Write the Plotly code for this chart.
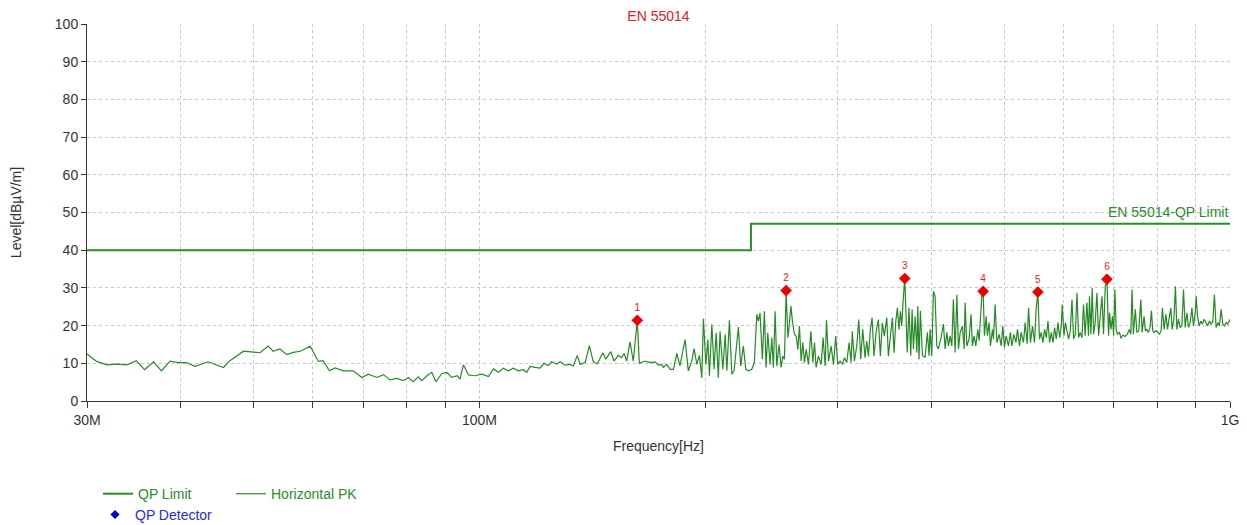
import plotly.graph_objects as go

# ---------------- data ----------------
# Horizontal PK spectrum: frequency [MHz], level [dBuV/m]
pk_freq = [
    30.0, 30.9, 31.9, 32.9, 33.9, 34.9, 35.8, 36.8, 37.7, 38.7, 39.7, 40.7, 41.8, 43.5, 45.6, 46.5,
    48.5, 50.0, 51.0, 52.3, 53.1, 54.2, 55.4, 56.5, 57.7, 59.5, 61.0, 61.9, 63.1, 64.2, 65.9, 67.9,
    69.7, 71.1, 73.0, 74.5, 76.0, 77.6, 79.2, 80.4, 81.6, 82.9, 83.8, 85.1, 86.4, 87.5, 89.1, 90.5,
    91.8, 93.4, 94.2, 95.2, 96.7, 98.7, 100.7, 102.8, 104.4, 106.0, 107.6, 109.3, 110.9, 112.7, 114.4,
    115.6, 116.8, 118.6, 120.4, 121.9, 123.5, 124.8, 126.8,
    128.1, 130.0, 132.1, 133.4, 135.0, 136.2, 138.3, 140.1, 141.8, 143.6, 146.0, 147.4, 149.6, 151.1,
    153.1, 154.7, 155.8, 157.1, 158.7, 160.3, 162.3, 163.3, 166.2, 168.8, 171.4, 173.1, 175.0, 175.8,
    177.6, 179.5, 181.3, 183.2, 185.0, 187.9, 189.8, 191.8, 193.2, 194.8, 196.4, 197.8, 198.8, 200.3,
    201.5, 202.5, 204.0, 205.4, 206.7, 208.1, 209.2, 211.0, 212.5, 213.6, 215.3, 216.9, 218.4, 221.3,
    222.9, 224.7, 226.4, 228.2,
    230.6, 232.4, 234.2, 235.3, 236.5, 238.2, 239.7, 240.9, 242.2, 243.9, 245.2, 246.4, 247.7, 249.0,
    250.7, 252.3, 253.6, 254.9, 256.2, 257.6, 258.6, 260.0, 261.2, 262.8, 264.2, 265.6, 266.9, 268.3,
    269.7, 271.0, 272.5, 274.4, 276.4, 278.1, 279.5, 280.9, 282.9, 285.3, 287.0, 288.8, 290.0, 291.8,
    294.1, 296.3, 298.3, 300.2, 302.3, 304.5, 306.4, 308.6, 310.8, 312.7, 313.9, 315.9, 318.2, 320.2,
    322.1, 324.1, 326.4, 328.1, 329.8, 331.8, 333.5, 335.5, 337.6, 340.0, 342.1, 344.2, 346.3, 348.9,
    350.6, 352.8, 354.9, 356.8, 358.7, 360.4, 362.3, 363.8, 365.3, 366.8, 368.7, 371.5,
    373.5, 375.5, 377.1, 378.6, 380.6, 382.6, 383.7, 385.2, 386.8, 389.2, 392.4, 395.2, 397.2, 398.5,
    400.5, 402.6, 404.6, 406.8, 408.7, 412.1, 415.1, 417.3, 419.4, 421.6, 423.7, 425.9, 428.0, 430.3,
    432.6, 434.7, 437.0, 440.0, 442.4, 443.7, 446.0, 449.1, 451.9, 453.7, 456.1, 458.5, 461.3, 463.2,
    465.0, 467.1, 468.9, 470.8, 473.3, 475.1, 477.6, 479.5, 482.5, 484.0, 486.5, 489.1, 492.5, 495.6,
    498.1, 500.6, 503.2, 506.8, 509.9, 512.1, 515.3, 518.5, 521.0, 524.3, 526.9, 530.7, 533.5, 536.7,
    539.0, 542.2, 545.6, 549.0, 551.8, 554.7, 557.4, 560.4, 563.3, 566.1, 569.1, 572.1, 574.9, 577.9,
    580.9, 583.8, 586.8, 589.9, 592.9, 595.9, 597.7, 600.9, 603.4, 606.4, 609.5, 612.6, 615.9, 618.9,
    622.1, 625.4, 628.5, 631.5, 634.9, 638.0, 641.3, 644.7, 647.9, 649.8, 652.7, 655.2, 658.0, 661.3,
    664.8, 668.2, 671.6, 675.2, 678.4, 682.0, 685.5, 689.0, 691.0, 694.1, 697.4, 699.7, 702.6, 705.4,
    708.1, 712.6, 715.7, 719.6, 724.8, 729.8, 734.4, 737.6, 740.5, 743.4, 748.0, 751.3, 755.8, 760.6,
    763.6, 768.3, 771.3, 774.7, 778.5, 782.6, 785.7, 789.1, 792.2, 797.1, 801.4, 805.3, 809.5, 812.7,
    817.0, 821.4, 825.4, 829.7, 833.9, 837.4, 841.9, 845.9, 849.6, 853.8, 858.1, 862.7, 867.1, 871.5,
    876.1, 880.5, 885.0, 889.7, 894.0, 898.8, 901.5, 905.2, 909.8, 914.4, 919.1, 923.9, 928.6, 933.4,
    939.0, 943.9, 948.7, 953.3, 958.3, 963.4, 968.1, 973.2, 978.2, 983.2, 988.2, 993.4, 998.2, 1000.0,
]
pk_level = [
    12.5, 10.5, 9.6, 9.8, 9.6, 10.7, 8.3, 10.4, 8.0, 10.6, 10.2, 10.2, 9.2, 10.4, 8.9, 10.7,
    13.2, 12.9, 12.8, 14.6, 13.2, 13.8, 12.3, 12.9, 13.2, 14.5, 10.5, 10.7, 8.0, 8.75, 8.0, 8.0,
    6.25, 7.1, 6.25, 7.0, 5.6, 6.0, 5.4, 6.25, 5.1, 6.4, 5.4, 6.7, 7.6, 5.1, 7.3, 7.6,
    6.25, 6.7, 5.8, 9.6, 6.9, 6.7, 7.1, 6.5, 8.5, 7.6, 8.7, 8.0, 8.7, 8.0, 8.3,
    7.6, 9.2, 8.9, 8.75, 10.0, 9.4, 10.4, 9.8,
    10.4, 9.5, 9.7, 9.3, 12.1, 9.7, 10.2, 14.7, 10.4, 9.9, 12.8, 11.1, 13.1, 10.6,
    12.1, 11.5, 12.6, 10.6, 15.7, 10.6, 21.4, 10.0, 10.6, 10.2, 10.4, 9.5, 9.7, 8.9,
    9.7, 8.4, 8.4, 12.6, 9.3, 16.3, 8.0, 10.6, 13.9, 9.7, 12.1, 6.2, 21.8, 9.7,
    16.3, 6.7, 20.3, 8.4, 18.1, 6.2, 18.5, 8.4, 17.6, 8.0, 21.4, 7.1, 8.0, 19.6,
    9.3, 14.6, 8.4, 8.0,
    8.4, 10.2, 23.0, 21.2, 23.4, 11.1, 23.8, 8.9, 18.1, 9.7, 16.8, 8.9, 23.8, 9.3,
    15.0, 8.9, 11.9, 11.1, 29.1, 16.8, 19.9, 25.2, 21.2, 17.7, 17.2, 13.7, 19.9, 10.6,
    15.5, 10.2, 13.7, 9.7, 18.5, 10.2, 15.5, 8.9, 11.9, 9.7, 16.8, 9.3, 21.5, 10.6,
    14.6, 9.7, 17.2, 9.7, 10.6, 9.7, 11.5, 10.2, 15.5, 10.2, 18.5, 10.6, 14.6, 21.6,
    11.1, 19.0, 11.5, 15.9, 11.9, 19.0, 22.1, 11.9, 18.1, 21.6, 11.9, 20.7, 17.2, 22.1,
    11.9, 18.1, 22.1, 12.8, 21.2, 24.7, 19.0, 23.8, 19.9, 26.5, 32.6, 12.9,
    24.7, 12.0, 24.3, 13.8, 22.5, 12.9, 25.2, 11.1, 23.9, 12.0, 11.6, 18.2, 12.0, 19.0,
    12.0, 29.1, 27.8, 14.6, 13.8, 16.8, 20.4, 13.8, 18.2, 14.6, 17.3, 14.6, 26.9, 12.9,
    28.2, 13.8, 18.2, 19.9, 13.8, 26.1, 14.6, 16.4, 23.0, 14.6, 17.3, 14.6, 19.0, 16.0,
    21.7, 28.2, 29.1, 17.3, 22.5, 17.3, 20.8, 14.6, 19.0, 16.4, 25.6, 15.5, 17.7, 14.6,
    19.9, 14.2, 17.3, 14.6, 18.2, 14.6, 17.7, 15.5, 19.0, 14.6, 18.2, 15.5, 20.8, 15.1,
    24.7, 15.5, 19.9, 15.5, 24.7, 28.7, 16.4, 18.2, 15.5, 19.0, 16.8, 21.2, 15.5, 18.2,
    15.5, 19.5, 16.4, 20.8, 16.8, 19.9, 25.6, 17.3, 20.8, 18.2, 16.4, 18.6, 26.9, 16.4,
    17.7, 28.7, 16.8, 18.2, 16.8, 25.6, 17.3, 26.1, 17.3, 27.8, 17.7, 30.0, 17.7, 20.8,
    28.7, 17.3, 22.5, 27.8, 17.7, 30.4, 32.2, 17.3, 23.4, 19.0, 22.5, 17.3, 29.6, 19.0,
    17.7, 18.2, 16.6, 17.5, 17.1, 17.7, 19.0, 17.7, 29.6, 17.7, 24.3, 18.2, 18.6, 26.9,
    18.2, 22.5, 18.6, 19.0, 18.2, 19.5, 23.9, 18.6, 18.2, 18.6, 18.2, 17.7, 18.6, 24.7,
    19.0, 23.0, 19.0, 22.1, 24.7, 19.0, 21.7, 30.4, 19.0, 21.7, 19.5, 19.9, 29.6, 19.5,
    23.4, 19.5, 20.8, 24.7, 19.9, 23.4, 27.8, 22.5, 19.9, 21.2, 20.4, 21.7, 20.8, 19.9,
    21.2, 20.4, 21.2, 28.2, 19.5, 20.8, 19.9, 24.3, 20.4, 19.9, 20.8, 20.4, 21.2, 21.7,
]

# QP limit (EN 55014)
limit_freq = [30.0, 230.0, 230.0, 1000.0]
limit_level = [40.0, 40.0, 47.0, 47.0]

# QP detector results
qp_freq = [162.3, 256.2, 368.7, 468.9, 554.7, 685.5]
qp_level = [21.4, 29.3, 32.5, 29.1, 28.9, 32.3]
qp_labels = ["1", "2", "3", "4", "5", "6"]

# axis ticks
x_tick_mhz = [30, 40, 50, 60, 70, 80, 90, 100, 200, 300, 400, 500, 600, 700, 800, 900, 1000]
x_tick_text = ["30M", "", "", "", "", "", "", "100M", "", "", "", "", "", "", "", "", "1G"]
y_ticks = [0, 10, 20, 30, 40, 50, 60, 70, 80, 90, 100]

# ---------------- figure ----------------
GREEN = "#2a8c2a"
FONT = "Liberation Sans, Arial, sans-serif"
hz = lambda v: [f * 1e6 for f in v]

fig = go.Figure()

fig.add_trace(go.Scatter(
    x=hz(limit_freq), y=limit_level, mode="lines", name="QP Limit",
    line=dict(color=GREEN, width=2), legend="legend", hoverinfo="skip"))

fig.add_trace(go.Scatter(
    x=hz(pk_freq), y=pk_level, mode="lines", name="Horizontal PK",
    line=dict(color="#268a26", width=1.2), legend="legend2"))

fig.add_trace(go.Scatter(
    x=hz(qp_freq), y=qp_level, mode="markers+text", name="QP Detector",
    marker=dict(symbol="diamond", size=9, color="#ee0000"),
    text=qp_labels, textposition="top center",
    textfont=dict(color="#e02020", size=10, family=FONT),
    showlegend=False))

# legend-only entry for the detector (blue symbol like the original legend)
fig.add_trace(go.Scatter(
    x=[None], y=[None], mode="markers", name="QP Detector",
    marker=dict(symbol="diamond", size=7, color="#0000cc"), legend="legend3"))

fig.add_annotation(
    x=1.0, xref="paper", y=47, yref="y", text="EN 55014-QP Limit",
    showarrow=False, xanchor="right", yanchor="bottom", yshift=2,
    font=dict(color=GREEN, size=14, family=FONT))

grid = dict(gridcolor="#c8c8c8", griddash="dot", gridwidth=1)

# the page body adds an 8px offset, so the figure is sized to fill the rest
FIG_W, FIG_H = 1239, 517

fig.update_layout(
    width=FIG_W, height=FIG_H,
    margin=dict(l=79, r=17, t=16, b=124, autoexpand=False),
    paper_bgcolor="white", plot_bgcolor="white",
    font=dict(family=FONT, size=14, color="#333333"),
    title=dict(text="EN 55014", x=0.5, xref="paper", y=1 - 8.5 / FIG_H, yref="container",
               yanchor="middle", automargin=False,
               font=dict(color="#e02020", size=14, family=FONT)),
    xaxis=dict(type="log", range=[7.4771, 9.0], tickvals=hz(x_tick_mhz), ticktext=x_tick_text,
               showline=True, linecolor="#333333", linewidth=1, ticks="outside", ticklen=6,
               tickcolor="#333333", zeroline=False, automargin=False,
               tickfont=dict(size=14),
               title=dict(text="Frequency[Hz]", standoff=14, font=dict(size=14)), **grid),
    yaxis=dict(range=[0, 100], tickvals=y_ticks, showline=True, linecolor="#333333",
               linewidth=1, ticks="outside", ticklen=5, tickcolor="#333333", zeroline=False,
               automargin=False, tickfont=dict(size=14),
               title=dict(text="Level[dBµV/m]", standoff=30, font=dict(size=14)), **grid),
    legend=dict(orientation="h", x=(98 - 87) / 1143, y=-0.247, xanchor="left", yanchor="middle",
                font=dict(color=GREEN, size=14), bgcolor="rgba(0,0,0,0)"),
    legend2=dict(orientation="h", x=(231 - 87) / 1143, y=-0.247, xanchor="left", yanchor="middle",
                 font=dict(color=GREEN, size=14), bgcolor="rgba(0,0,0,0)"),
    legend3=dict(orientation="h", x=(95 - 87) / 1143, y=-0.302, xanchor="left", yanchor="middle",
                 font=dict(color="#2b2bd6", size=14), bgcolor="rgba(0,0,0,0)"),
)

fig.write_html("out.html")
